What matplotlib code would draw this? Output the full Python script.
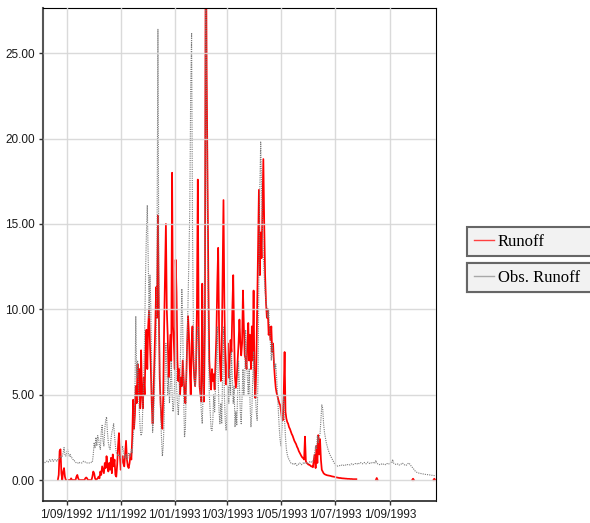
import numpy as np
import pandas as pd
import matplotlib
matplotlib.use("Agg")
import matplotlib.pyplot as plt
import matplotlib.dates as mdates
from matplotlib.lines import Line2D
from matplotlib.ticker import FuncFormatter

nan = np.nan

# daily flows, starting 5 Aug 1992
start_date = "1992-08-05"

obs_runoff = [
    1.05, 1.05, 1.0, 1.05, 1.1, 1.1, 1.05, 1.15, 1.2, 1.1,
    1.15, 1.2, 1.1, 1.15, 1.2, 1.15, 1.1, 1.2,
    1.2, 1.3, 1.4, 1.3, 1.4, 1.6, 1.9, 1.5, 1.4, 1.6,
    1.8, 1.5, 1.4, 1.5, 1.3, 1.3, 1.2, 1.2, 1.1,
    1.05, 1.0, 1.0, 1.0, 1.05, 1.0, 1.0, 1.0, 1.05, 1.1,
    1.1, 1.05, 1.05, 1.0, 1.0, 1.0, 1.0, 1.0, 1.05, 1.05,
    1.5, 2.2, 1.9, 2.5, 2.0, 2.6, 2.4,
    2.0, 1.8, 2.8, 3.2, 2.3, 2.0, 3.0, 3.5, 3.7, 2.8, 2.2, 1.9,
    1.8, 2.4, 2.8, 3.0, 3.3, 2.6, 2.0, 1.6, 1.5, 1.4,
    1.5, 1.4, 1.3, 1.5, 2.0, 1.7, 1.4, 1.3, 1.5, 1.2, 1.3, 1.6, 1.5, 1.4,
    1.8, 1.6, 2.5, 3.2, 5.0, 9.6, 6.0, 7.0, 5.5, 4.0, 3.0,
    2.6, 2.8, 4.5, 6.0, 8.5, 12.0, 14.5, 16.1, 13.0, 9.5, 12.0, 10.0, 6.0, 2.8, 3.5,
    5.0, 7.0, 8.0, 14.0, 26.4, 12.0, 6.5, 4.0, 2.5, 1.4, 2.0,
    3.5, 6.0, 8.0, 6.5, 5.0, 6.0, 4.5, 5.5, 7.0, 5.0, 4.0, 4.5,
    6.0, 8.0, 5.5, 4.5, 3.8, 5.0, 6.5, 8.5, 11.2, 9.0, 5.0, 2.5,
    3.0, 5.5, 8.0, 10.5, 13.0, 16.0, 23.0, 26.2, 15.0, 9.0, 6.0, 5.5,
    6.5, 8.0, 9.0, 7.5, 6.0, 5.0, 4.0, 3.3, 5.0, 9.0,
    14.0, 30.0, 22.0, 14.0, 8.0, 5.0,
    4.0, 3.0, 2.9, 3.5, 5.0, 4.0, 5.5, 7.0, 9.0, 6.0, 4.0, 3.3,
    4.5, 3.3, 6.0, 9.0, 5.0, 3.5, 2.9, 4.0, 5.5, 4.5, 6.5, 5.0, 7.5, 6.0, 4.5,
    5.5, 3.1, 4.0, 3.2, 5.0, 7.0, 5.5, 4.0, 3.3, 5.0, 6.5, 5.0, 6.0, 8.8, 7.0,
    6.0, 5.0, 6.5, 4.5, 3.1, 4.0, 6.0, 7.5, 6.0, 5.0, 4.0, 3.5, 6.0,
    12.0, 17.0, 19.8, 17.0, 14.9, 13.0, 12.0, 11.0, 10.5, 10.0, 9.5, 10.0, 9.0, 8.0, 7.0,
    8.0, 7.3, 7.0, 6.5, 6.8, 6.0, 5.0, 4.0, 3.0, 2.3,
    2.0, 3.0, 4.0, 5.0, 3.5, 2.5, 1.8, 1.5, 1.3, 1.2, 1.1, 1.0,
    1.0, 0.95, 0.9, 0.95, 1.0, 0.9, 0.85, 0.9, 0.95, 1.0,
    0.95, 0.9, 0.95, 1.0, 0.95, 1.0, 1.05, 1.0, 0.95, 1.0,
    1.05, 1.1, 1.05, 1.1, 1.1,
    1.2, 1.6, 2.0, 1.8, 2.6, 2.2, 2.5, 2.7, 3.5, 4.4, 4.2, 3.3, 2.8,
    2.5, 2.2, 2.0, 1.8, 1.65, 1.5, 1.4, 1.3, 1.2, 1.1, 1.0, 0.9,
    0.85, 0.82, 0.82, 0.84, 0.85, 0.83, 0.86, 0.88, 0.85, 0.87,
    0.9, 0.88, 0.86, 0.9, 0.92, 0.9, 0.88, 0.93, 0.95, 0.9,
    0.92, 0.95, 0.97, 0.93, 0.95, 1.0, 0.96, 0.98, 1.02, 0.97,
    0.95, 1.0, 1.03, 0.98, 0.95, 1.0, 1.05, 1.0, 0.97, 1.02,
    1.0, 0.98, 1.02, 1.05, 1.0, 1.15, 1.0, 0.95, 0.92, 0.9,
    0.93, 0.95, 0.9, 0.92, 0.95, 0.93, 0.9, 0.95, 0.97, 0.93,
    0.95, 1.0, 1.05, 1.0, 1.2, 1.0, 0.95, 0.93, 0.9, 0.92,
    0.95, 0.9, 0.88, 0.92, 0.95, 1.0, 0.95, 0.9, 0.88, 0.85,
    0.9, 0.95, 1.0, 0.95, 0.9, 0.8, 0.75, 0.7, 0.62, 0.55,
    0.5, 0.46, 0.44, 0.42, 0.4, 0.39, 0.38, 0.37, 0.36, 0.35,
    0.34, 0.33, 0.33, 0.32, 0.31, 0.3, 0.3, 0.29, 0.28, 0.28, 0.27, 0.26, 0.25,
]

runoff = (
    [nan] * 17
    + [0.0, 0.3, 1.7, 1.8, 0.4, 0.0, 0.5, 0.7, 0.2]
    + [0, 0, 0, 0, 0, 0, 0.1, 0, 0, 0,
       0, 0, 0.2, 0.3, 0.1, 0, 0, 0, 0, 0,
       0, 0, 0.1, 0.15, 0.1, 0, 0, 0, 0, 0]
    + [0.2, 0.5, 0.4, 0.1, 0.0, 0.05, 0.1]
    + [0.2, 0.1, 0.5, 0.3, 0.8, 0.6, 0.4, 1.0, 0.7, 1.4, 0.9, 0.5, 1.0]
    + [0.6, 1.3, 0.4, 1.5, 0.8, 1.2, 0.3, 0.2, 0.9, 2.0, 2.75, 1.5, 0.6, 1.1, 1.4]
    + [1.0, 0.8, 1.6, 2.3, 1.2, 0.8, 0.7, 1.0, 1.5, 1.2]
    + [2.5, 4.7, 3.0, 3.8, 5.5, 4.5, 6.8, 5.0, 6.5, 4.2]
    + [7.6, 5.0, 4.2, 6.0, 5.0, 7.5, 8.8, 6.5, 9.0, 10.0, 8.0, 6.5, 4.5, 3.3, 5.0]
    + [7.0, 9.0, 11.3, 9.5, 15.5, 10.0, 6.0, 4.5, 3.5, 3.0, 5.0]
    + [9.0, 12.0, 15.0, 10.0, 8.5, 6.0, 7.0, 8.5, 7.0, 18.0, 9.0, 8.0]
    + [6.5, 12.9, 11.0, 7.0, 5.8, 6.5, 5.0, 6.0, 5.5, 7.0, 6.0, 5.0]
    + [4.5, 6.0, 8.0, 9.6, 8.5, 6.5, 5.0, 8.0, 9.0, 7.0, 6.0, 5.5, 6.5, 10.0, 17.6]
    + [9.0, 5.5, 5.0, 4.6, 11.5, 6.0, 4.6, 9.0, 35.0, 24.0, 18.0, 11.3, 7.0, 6.0, 5.3]
    + [6.5, 5.8, 6.2, 5.3, 7.0, 8.5, 11.5, 13.6, 9.0, 7.0, 5.8, 7.5, 12.0, 16.4, 10.4]
    + [7.0, 5.6, 6.5, 8.0, 6.0, 7.0, 8.2, 7.5, 10.0, 12.0, 8.5, 6.0, 5.4]
    + [6.0, 7.0, 8.0, 9.4, 8.1, 7.3, 8.0, 11.1, 9.0, 7.3, 7.1, 6.5, 8.0, 9.2, 7.0, 8.5, 6.5]
    + [9.0, 7.0, 11.1, 6.0, 4.8, 6.5, 10.0, 13.3, 17.0, 12.0, 14.5, 13.0, 16.0, 18.8, 15.0]
    + [12.0, 10.4, 9.5, 10.0, 8.5, 9.0, 8.2, 9.0, 7.5, 8.0, 6.8, 6.0, 5.4, 5.1, 4.9, 4.7, 4.5, 4.4]
    + [4.0, 3.6, 3.5, 5.0, 7.5, 4.0, 3.6]
    + [3.4, 3.3, 3.1, 3.0, 2.85, 2.7, 2.6, 2.45, 2.3, 2.2]
    + [2.1, 1.95, 1.85, 1.7, 1.6, 1.5, 1.4, 1.32, 1.28]
    + [1.2, 2.54, 1.1, 1.0, 0.95, 0.9, 0.9, 0.85, 0.8, 0.8,
       0.75, 1.2, 1.5, 0.7, 2.0, 1.0, 2.63, 1.5, 2.4, 1.2,
       0.6, 0.5, 0.4, 0.35, 0.32, 0.3, 0.28, 0.27, 0.26, 0.25,
       0.24, 0.22, 0.21, 0.2, 0.19, 0.18]
    + [0.16, 0.15, 0.14, 0.13, 0.12, 0.12, 0.11, 0.1, 0.1, 0.09,
       0.09, 0.08, 0.08, 0.07, 0.07, 0.07, 0.06, 0.06, 0.06, 0.05,
       0.05, 0.05, 0.05, 0.05]
    + [nan] * 21 + [0.0, 0.12, 0.0]
    + [nan] * 38 + [0.0, 0.08, 0.0]
    + [nan] * 21 + [0.0, 0.08, 0.0]
)

assert len(obs_runoff) == len(runoff) == 444, (len(obs_runoff), len(runoff))

dates = pd.date_range(start_date, periods=len(runoff), freq="D")
y_ticks = [0, 5, 10, 15, 20, 25]
series_labels = ["Runoff", "Obs. Runoff"]

W, H = 590, 523
fig = plt.figure(figsize=(W / 100, H / 100), dpi=100)
ax = fig.add_axes([43 / W, 1 - 500.7 / H, (436 - 43) / W, (500.7 - 8) / H])

ax.plot(dates, runoff, color="#ff0000", lw=1.25)
ax.plot(dates, obs_runoff, color="#7a7a7a", lw=0.8, ls=(0, (1, 1)))

ax.set_xlim(pd.Timestamp("1992-08-05 06:00"), pd.Timestamp("1993-10-22 22:00"))
ax.set_ylim(-1.21, 27.65)

ax.xaxis.set_major_locator(mdates.MonthLocator(bymonth=[1, 3, 5, 7, 9, 11]))


def date_label(v, pos):
    d = mdates.num2date(v)
    return f"{d.day}/{d.month:02d}/{d.year}"


ax.xaxis.set_major_formatter(FuncFormatter(date_label))
ax.set_yticks(y_ticks)
ax.yaxis.set_major_formatter(FuncFormatter(lambda v, pos: f"{v:.2f}"))

ax.grid(True, color="#d6d6d6", lw=1.0, alpha=0.9)
ax.set_axisbelow(False)

for lab in ax.get_xticklabels() + ax.get_yticklabels():
    lab.set_fontfamily("Liberation Sans")
    lab.set_fontsize(8.5)
ax.tick_params(direction="out", length=3.2, width=1, pad=2.5, colors="#333333",
               labelcolor="#1a1a1a")

ax.spines["left"].set_color("#555555")
ax.spines["left"].set_linewidth(1.5)
ax.spines["bottom"].set_color("#222222")
ax.spines["bottom"].set_linewidth(1.2)
ax.spines["top"].set_color("black")
ax.spines["right"].set_color("black")

# two separate legend boxes to the right of the plot
handles = [Line2D([], [], color="#ff4040", lw=1.0),
           Line2D([], [], color="#a8a8a8", lw=1.0)]
tops = [227, 263]
box_h = 31
for h, lab, top in zip(handles, series_labels, tops):
    leg = ax.legend([h], [lab], loc="upper left",
                    bbox_to_anchor=(467 / W, 1 - (top + box_h) / H, 140 / W, box_h / H),
                    bbox_transform=fig.transFigure, mode="expand",
                    prop={"family": "Liberation Serif", "size": 12},
                    fancybox=False, framealpha=1, facecolor="#f2f2f2",
                    edgecolor="#666666", borderpad=0.4, handlelength=1.2,
                    handletextpad=0.25, borderaxespad=0)
    leg.get_frame().set_linewidth(1.5)
    ax.add_artist(leg)

fig.savefig("out.png", dpi=100)
